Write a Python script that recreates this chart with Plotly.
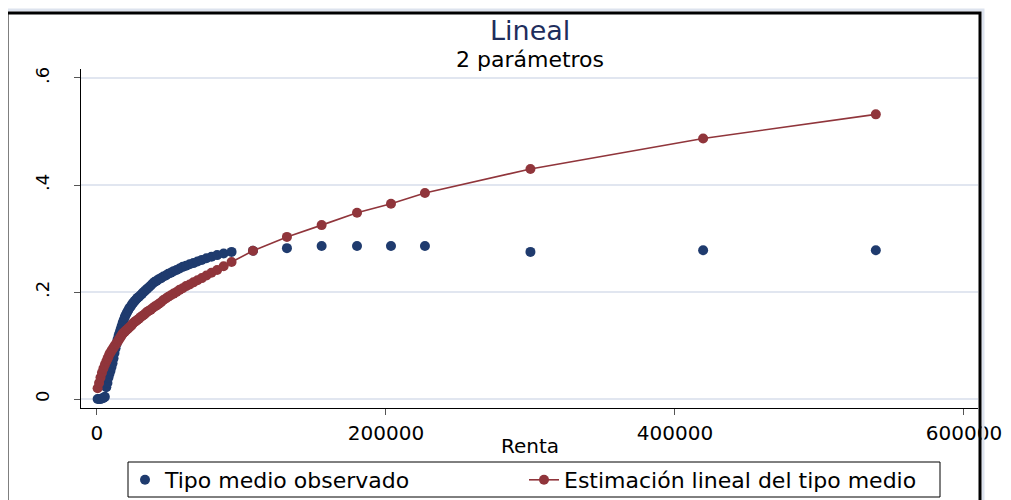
import plotly.graph_objects as go

# ---- data ----
renta = [500, 1500, 2500, 3500, 4500, 5500, 6500, 7300, 8000, 8700, 9400, 10100,
         10800, 11500, 12200, 12900, 13600, 14300, 15000, 15700, 16400, 17100,
         17800, 18500, 19300, 20100, 20900, 21700, 22500, 23400, 24300, 25200,
         26100, 27100, 28100, 29100, 30200, 31300, 32400, 33600, 34800, 36000,
         37300, 38600, 40000, 41400, 42900, 44400, 46000, 47700, 49400, 51200,
         53100, 55100, 57200, 59400, 61700, 64200, 66800, 69600, 72600, 75800,
         79300, 83200, 87700, 93200,
         108000, 131500, 155500, 180000, 203500, 227000, 300000, 419500, 539000]

tipo_observado = [0.000, 0.000, 0.000, 0.001, 0.002, 0.004, 0.022, 0.030, 0.040, 0.047,
                  0.053, 0.060, 0.067, 0.076, 0.086, 0.095, 0.103, 0.111, 0.118, 0.124,
                  0.130, 0.136, 0.142, 0.147, 0.153, 0.158, 0.162, 0.166, 0.170, 0.173,
                  0.177, 0.180, 0.183, 0.186, 0.189, 0.191, 0.194, 0.197, 0.200, 0.203,
                  0.206, 0.209, 0.212, 0.216, 0.219, 0.221, 0.224, 0.226, 0.229, 0.231,
                  0.234, 0.236, 0.239, 0.241, 0.244, 0.247, 0.249, 0.252, 0.254, 0.257,
                  0.260, 0.263, 0.266, 0.269, 0.272, 0.275,
                  0.277, 0.282, 0.286, 0.286, 0.286, 0.286, 0.275, 0.278, 0.278]

tipo_estimado = [0.020, 0.030, 0.040, 0.049, 0.057, 0.064, 0.070, 0.075, 0.079, 0.084,
                 0.087, 0.090, 0.093, 0.096, 0.099, 0.102, 0.104, 0.107, 0.110, 0.113,
                 0.116, 0.119, 0.122, 0.124, 0.126, 0.128, 0.130, 0.132, 0.134, 0.136,
                 0.139, 0.142, 0.144, 0.146, 0.148, 0.150, 0.153, 0.155, 0.157, 0.160,
                 0.163, 0.165, 0.167, 0.170, 0.173, 0.175, 0.178, 0.181, 0.185, 0.188,
                 0.191, 0.194, 0.197, 0.200, 0.204, 0.207, 0.211, 0.214, 0.218, 0.222,
                 0.226, 0.231, 0.236, 0.241, 0.248, 0.256,
                 0.277, 0.303, 0.325, 0.348, 0.365, 0.385, 0.430, 0.487, 0.532]

x_tickvals = [0, 200000, 400000, 600000]
x_ticktext = ["0", "200000", "400000", "600000"]
y_tickvals = [0, 0.2, 0.4, 0.6]
y_ticktext = ["0", ".2", ".4", ".6"]

NAVY = "#1f3b6e"
MAROON = "#90353b"
GRID = "#e1e6f0"
FONT = "DejaVu Sans"

# the page body adds an 8px margin; the figure is sized to fill the rest
OFF = 8
W, H = 1011 - OFF, 500 - OFF
# plot area in screenshot pixels
L, R, T, B = 81, 978, 69, 408
pw, ph = R - L, B - T


def px(x):
    return (x - L) / pw


def py(y):
    return (B - y) / ph


fig = go.Figure()
fig.add_trace(go.Scatter(
    x=renta, y=tipo_observado, mode="markers", name="Tipo medio observado",
    marker=dict(color=NAVY, size=10, line=dict(width=0)),
))
fig.add_trace(go.Scatter(
    x=renta, y=tipo_estimado, mode="lines+markers",
    name="Estimación lineal del tipo medio",
    line=dict(color=MAROON, width=1.6),
    marker=dict(color=MAROON, size=10, line=dict(width=0)),
))

fig.update_layout(
    width=W, height=H,
    margin=dict(l=L - OFF, r=1011 - R, t=T - OFF, b=500 - B, pad=0,
                autoexpand=False),
    paper_bgcolor="white", plot_bgcolor="white",
    font=dict(family=FONT, color="black", size=20),
    showlegend=True,
    legend=dict(
        orientation="h", x=px(125), xanchor="left", y=py(459), yanchor="top",
        font=dict(family=FONT, size=22, color="black"),
        bgcolor="rgba(0,0,0,0)", borderwidth=0,
        entrywidth=354, entrywidthmode="pixels",
    ),
    annotations=[
        dict(text="Lineal", x=0.5, xref="paper", y=py(30), yref="paper",
             xanchor="center", yanchor="middle", showarrow=False,
             font=dict(family=FONT, size=27, color="#1e2d5c")),
        dict(text="2 parámetros", x=0.5, xref="paper", y=py(59), yref="paper",
             xanchor="center", yanchor="middle", showarrow=False,
             font=dict(family=FONT, size=22, color="black")),
        dict(text="Renta", x=0.5, xref="paper", y=py(446), yref="paper",
             xanchor="center", yanchor="middle", showarrow=False,
             font=dict(family=FONT, size=20, color="black")),
    ],
    shapes=[
        # outer graph border (light band + thick black line)
        dict(type="rect", xref="paper", yref="paper",
             x0=px(4), x1=px(983), y0=py(530), y1=py(10),
             line=dict(color="#dde3ee", width=3), fillcolor="rgba(0,0,0,0)",
             layer="above"),
        dict(type="rect", xref="paper", yref="paper",
             x0=px(7), x1=px(980), y0=py(530), y1=py(13),
             line=dict(color="black", width=3), fillcolor="rgba(0,0,0,0)",
             layer="above"),
        # legend box
        dict(type="rect", xref="paper", yref="paper",
             x0=px(128), x1=px(940), y0=py(497), y1=py(462),
             line=dict(color="black", width=1), fillcolor="rgba(0,0,0,0)",
             layer="above"),
    ],
)

fig.update_xaxes(
    range=[-11000, 609700], tickvals=x_tickvals, ticktext=x_ticktext,
    showgrid=False, zeroline=False, showline=True, linecolor="black", linewidth=1,
    ticks="outside", ticklen=6, tickcolor="#555555", tickwidth=1,
    tickfont=dict(family=FONT, size=20),
    ticklabelstandoff=1,
)
fig.update_yaxes(
    range=[-0.0168, 0.6168], tickvals=y_tickvals, ticktext=y_ticktext,
    showgrid=True, gridcolor=GRID, gridwidth=1.5, zeroline=False,
    showline=True, linecolor="black", linewidth=1,
    ticks="outside", ticklen=6, tickcolor="#555555", tickwidth=1,
    tickangle=-90, tickfont=dict(family=FONT, size=18),
    ticklabelstandoff=18,
)

fig.write_html("out.html")
